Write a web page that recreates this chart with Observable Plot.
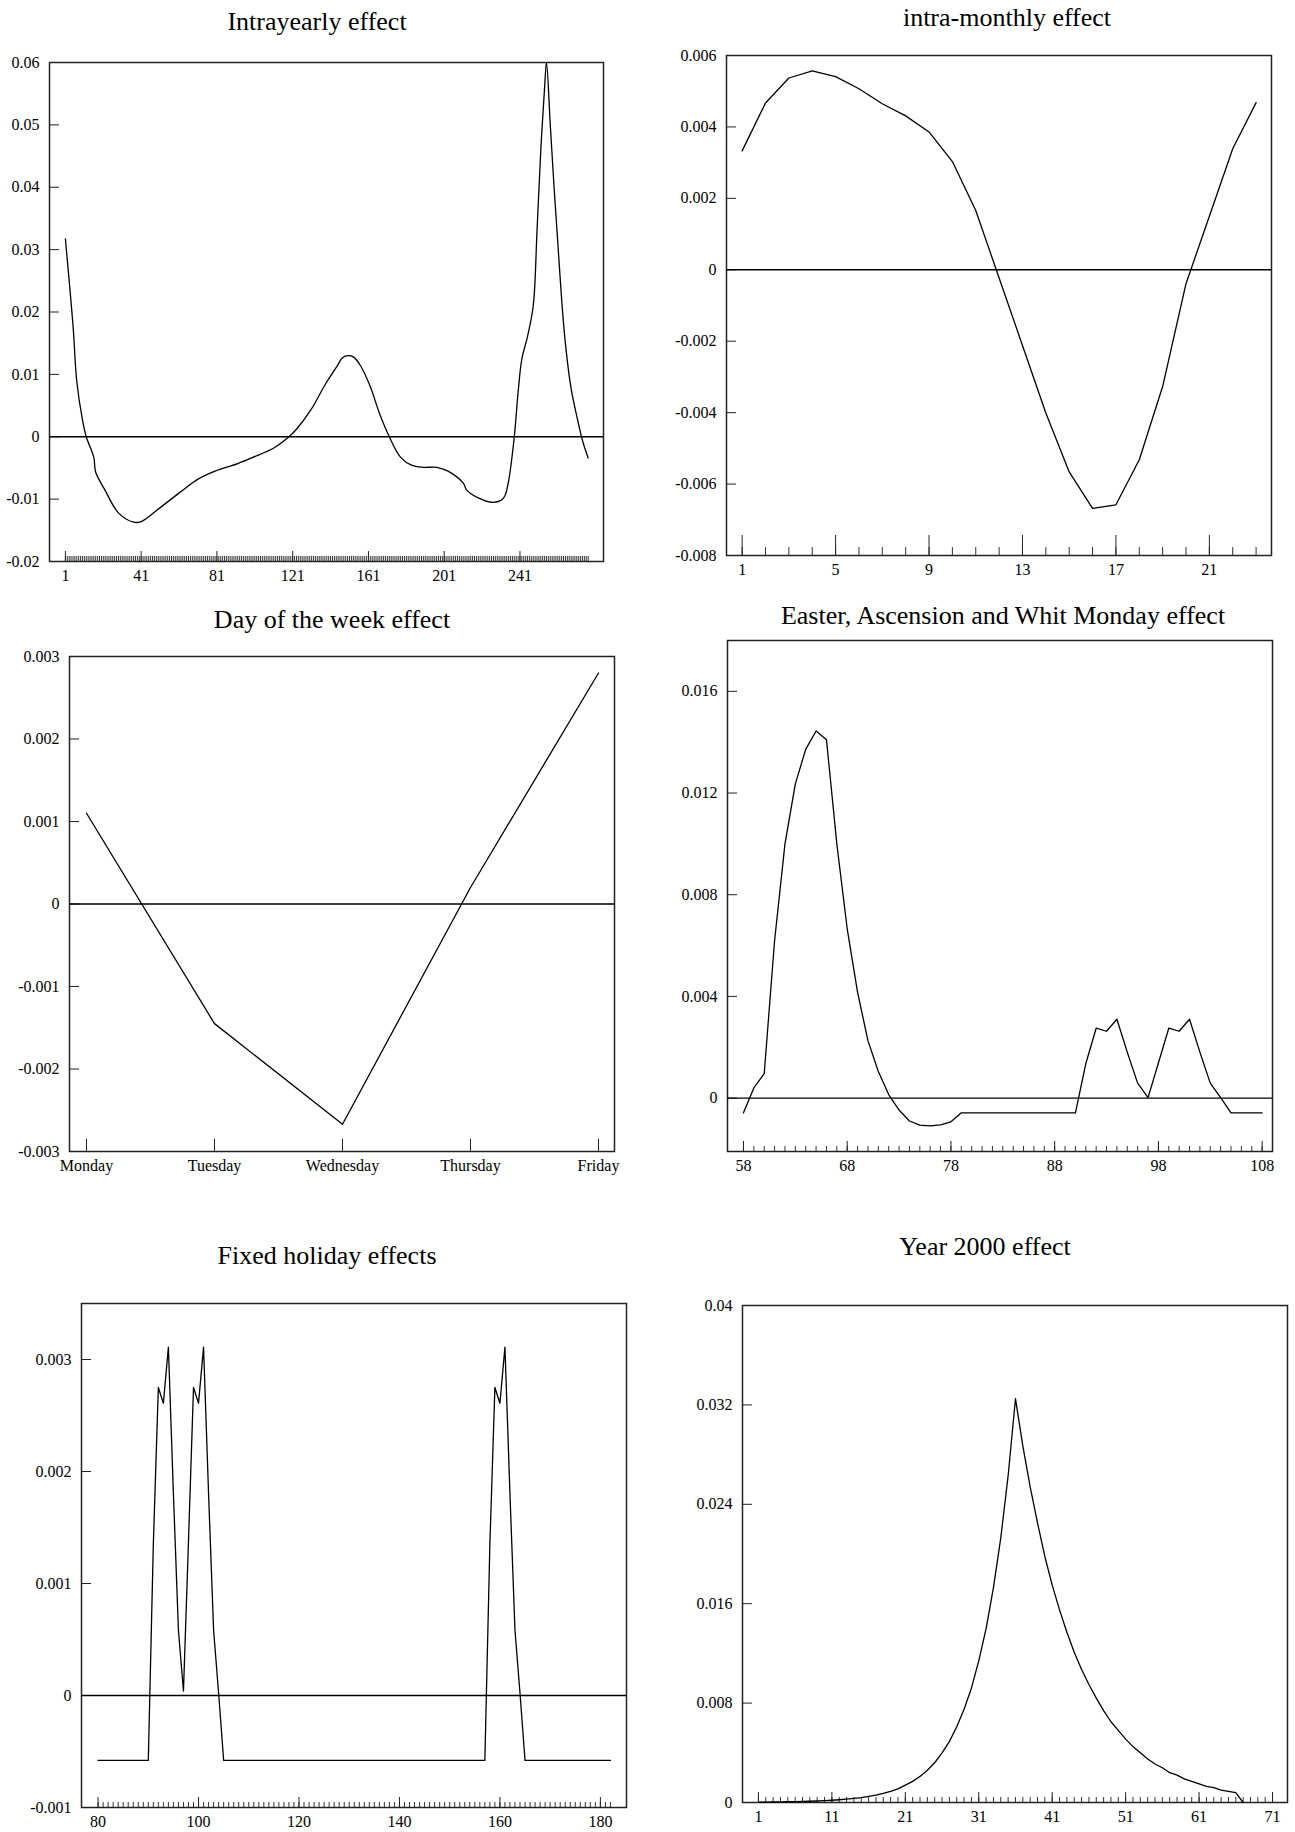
<!DOCTYPE html>
<html><head><meta charset="utf-8">
<script src="https://cdn.jsdelivr.net/npm/d3@7"></script>
<script src="https://cdn.jsdelivr.net/npm/@observablehq/plot@0.6"></script>
<style>
html,body{margin:0;padding:0;background:#fff;width:1295px;height:1832px;overflow:hidden;}
#page{position:relative;width:1295px;height:1832px;background:#fff;}
.title{position:absolute;font-family:"Liberation Serif","Times New Roman",serif;font-size:26px;line-height:26px;white-space:nowrap;transform:translateX(-50%);color:#000;}
</style></head><body><div id="page"></div>
<script>
// ---------- data ----------
const intrayearlyDay = [1,5,7,10,12,16,17,22,29,37,41,50,62,71,80,92,100,111,119,123,131,138,145,147,150,153,157,162,167,172,178,184,190,197,203,211,213,219,226,231,233,235,238,240,242,245,248,250,252,254,255,257,259,261,263,265,268,271,274,277];
const intrayearlyEffect = [0.0317,0.0179,0.0089,0.0027,0.0,-0.0033,-0.0057,-0.0086,-0.0122,-0.0137,-0.0136,-0.0116,-0.0088,-0.0068,-0.0055,-0.0043,-0.0033,-0.0018,0.0,0.0012,0.0045,0.0083,0.0116,0.0126,0.013,0.0128,0.0113,0.008,0.0036,0.0,-0.0033,-0.0046,-0.0049,-0.0049,-0.0055,-0.0074,-0.0086,-0.0098,-0.0105,-0.0102,-0.0095,-0.0071,0.0,0.0071,0.0125,0.0161,0.021,0.033,0.046,0.056,0.06,0.05,0.04,0.031,0.022,0.0149,0.0077,0.0033,-0.0006,-0.0034];
const intrayearlyTicks = [1,41,81,121,161,201,241];
const intrayearlyYTicks = [-0.02,-0.01,0,0.01,0.02,0.03,0.04,0.05,0.06];

const monthlyEffect = [0.00333,0.00467,0.00537,0.00557,0.00541,0.00507,0.00465,0.00431,0.00386,0.00303,0.00166,-0.00023,-0.00212,-0.00401,-0.00566,-0.00668,-0.00658,-0.00532,-0.00327,-0.00039,0.0015,0.00339,0.00468];
const monthlyTicks = [1,5,9,13,17,21];
const monthlyYTicks = [-0.008,-0.006,-0.004,-0.002,0,0.002,0.004,0.006];

const weekdays = ["Monday","Tuesday","Wednesday","Thursday","Friday"];
const weekdayEffect = [0.0011,-0.00145,-0.00267,0.0002,0.0028];
const weekdayYTicks = [-0.003,-0.002,-0.001,0,0.001,0.002,0.003];

const easterDay = [58,59,60,61,62,63,64,65,66,67,68,69,70,71,72,73,74,75,76,77,78,79,90,91,92,93,94,95,96,97,98,99,100,101,102,103,104,105,108];
const easterEffect = [-0.00058,0.0004,0.00096,0.0062,0.01,0.01236,0.01372,0.01444,0.0141,0.01,0.00666,0.00416,0.00226,0.00105,0.00014,-0.00047,-0.0009,-0.00106,-0.00109,-0.00105,-0.00093,-0.00058,-0.00058,0.00135,0.00275,0.00263,0.0031,0.00181,0.00059,0.00002,0.00138,0.00275,0.00263,0.0031,0.00181,0.00059,0.00002,-0.00058,-0.00058];
const easterTicks = [58,68,78,88,98,108];
const easterYTicks = [0,0.004,0.008,0.012,0.016];

const fixedDay = [80,90,91,92,93,94,95,96,97,98,99,100,101,102,103,104,105,157,158,159,160,161,162,163,164,165,182];
const fixedEffect = [-0.00058,-0.00058,0.00135,0.00275,0.00261,0.00311,0.0018,0.00058,0.00004,0.00138,0.00275,0.00261,0.00311,0.0018,0.00058,0.00002,-0.00058,-0.00058,0.00135,0.00275,0.00261,0.00311,0.0018,0.00058,0.00002,-0.00058,-0.00058];
const fixedTicks = [80,100,120,140,160,180];
const fixedYTicks = [-0.001,0,0.001,0.002,0.003];

const y2kEffect = [0.00002,0.00003,0.00004,0.00005,0.00006,0.00007,0.00009,0.0001,0.00012,0.00015,
  0.00018,0.00022,0.00027,0.00033,0.0004,0.00049,0.0006,0.00073,0.0009,0.0011,
  0.0014,0.0017,0.0021,0.0026,0.0032,0.004,0.0049,0.0061,0.0075,0.0092,
  0.0114,0.014,0.0173,0.0213,0.0263,0.0325,0.0287,0.0254,0.0225,0.0198,
  0.0175,0.0155,0.0137,0.0121,0.0107,0.0095,0.0084,0.0074,0.0065,0.0058,
  0.0051,0.0045,0.004,0.0035,0.0031,0.0028,0.0024,0.0022,0.0019,0.0017,
  0.0015,0.0013,0.0012,0.001,0.0009,0.0008,0];
const y2kTicks = [1,11,21,31,41,51,61,71];
const y2kYTicks = [0,0.008,0.016,0.024,0.032,0.04];

// ---------- drawing ----------
const FONT = '"Liberation Serif","Times New Roman",serif';
const page = document.getElementById("page");
const fmt = d => String(Math.round(d * 1e6) / 1e6);
const pairs = (xs, ys) => xs.map((x, i) => ({x, y: ys[i]}));

function addTitle(text, cx, baseline) {
  const div = document.createElement("div");
  div.className = "title";
  div.textContent = text;
  div.style.left = cx + "px";
  div.style.top = (baseline - 21.8) + "px";
  page.appendChild(div);
}

function addPanel(c) {
  const mL = 80, mR = 6, mT = 6, mB = 28;
  const width = (c.R - c.L) + mL + mR;
  const height = (c.B - c.T) + mT + mB;
  const marks = [
    Plot.frame({stroke: "#222", strokeWidth: 1.5}),
    Plot.axisY(c.yTicks, {anchor: "left", tickSize: -10, tickPadding: 20, tickFormat: fmt, label: null, stroke: "#222"}),
  ];
  if (c.xMinor) marks.push(Plot.axisX(c.xMinor, {anchor: "bottom", tickSize: -c.minorLen, tickFormat: () => "", label: null, stroke: "#333"}));
  marks.push(Plot.axisX(c.xMajor, {anchor: "bottom", tickSize: -c.majorLen, tickPadding: c.majorLen + 8.5, tickFormat: c.xFormat || (d => String(d)), label: null, stroke: "#222"}));
  if (c.zero) marks.push(Plot.ruleY([0], {stroke: "#000", strokeWidth: 1.4}));
  marks.push(Plot.line(c.data, {x: "x", y: "y", stroke: "#000", strokeWidth: 1.3, curve: c.curve || "linear"}));
  const svg = Plot.plot({
    width, height, marginLeft: mL, marginRight: mR, marginTop: mT, marginBottom: mB,
    style: {fontFamily: FONT, fontSize: "16px", color: "#000", background: "transparent", overflow: "visible"},
    x: Object.assign({axis: null, label: null}, c.x),
    y: {domain: c.yDomain, axis: null, label: null},
    marks
  });
  svg.style.position = "absolute";
  svg.style.left = (c.L - mL) + "px";
  svg.style.top = (c.T - mT) + "px";
  page.appendChild(svg);
}

// Panel 1: Intrayearly effect
addTitle("Intrayearly effect", 317, 30.5);
addPanel({
  L: 49, T: 62, R: 603, B: 561,
  x: {domain: [-7.4, 285.1]}, yDomain: [-0.02, 0.06], yTicks: intrayearlyYTicks,
  xMajor: intrayearlyTicks, xMinor: d3.range(1, 278), majorLen: 10, minorLen: 5,
  zero: true, curve: "catmull-rom",
  data: pairs(intrayearlyDay, intrayearlyEffect)
});

// Panel 2: intra-monthly effect
addTitle("intra-monthly effect", 1007, 27);
addPanel({
  L: 726, T: 55, R: 1271, B: 555,
  x: {domain: [0.33, 23.66]}, yDomain: [-0.008, 0.006], yTicks: monthlyYTicks,
  xMajor: monthlyTicks, xMinor: d3.range(1, 24), majorLen: 20, minorLen: 8,
  zero: true,
  data: monthlyEffect.map((v, i) => ({x: i + 1, y: v}))
});

// Panel 3: Day of the week effect
addTitle("Day of the week effect", 332, 629);
addPanel({
  L: 69, T: 656, R: 614, B: 1151,
  x: {type: "point", domain: weekdays, padding: 0.124}, yDomain: [-0.003, 0.003], yTicks: weekdayYTicks,
  xMajor: weekdays, majorLen: 12,
  zero: true,
  data: pairs(weekdays, weekdayEffect)
});

// Panel 4: Easter, Ascension and Whit Monday effect
addTitle("Easter, Ascension and Whit Monday effect", 1003, 624.5);
addPanel({
  L: 727, T: 640, R: 1272, B: 1151,
  x: {domain: [56.46, 109.0]}, yDomain: [-0.0021, 0.018], yTicks: easterYTicks,
  xMajor: easterTicks, xMinor: d3.range(58, 109), majorLen: 10, minorLen: 5,
  zero: true,
  data: pairs(easterDay, easterEffect)
});

// Panel 5: Fixed holiday effects
addTitle("Fixed holiday effects", 327, 1264.5);
addPanel({
  L: 81, T: 1303, R: 626, B: 1807,
  x: {domain: [76.7, 185.2]}, yDomain: [-0.001, 0.0035], yTicks: fixedYTicks,
  xMajor: fixedTicks, xMinor: d3.range(80, 183), majorLen: 10, minorLen: 5,
  zero: true,
  data: pairs(fixedDay, fixedEffect)
});

// Panel 6: Year 2000 effect
addTitle("Year 2000 effect", 985, 1255.5);
addPanel({
  L: 742, T: 1305, R: 1287, B: 1802,
  x: {domain: [-1.17, 73.04]}, yDomain: [0, 0.04], yTicks: y2kYTicks,
  xMajor: y2kTicks, xMinor: d3.range(1, 72), majorLen: 10, minorLen: 5,
  zero: false,
  data: y2kEffect.map((v, i) => ({x: i + 1, y: v}))
});
</script></body></html>
